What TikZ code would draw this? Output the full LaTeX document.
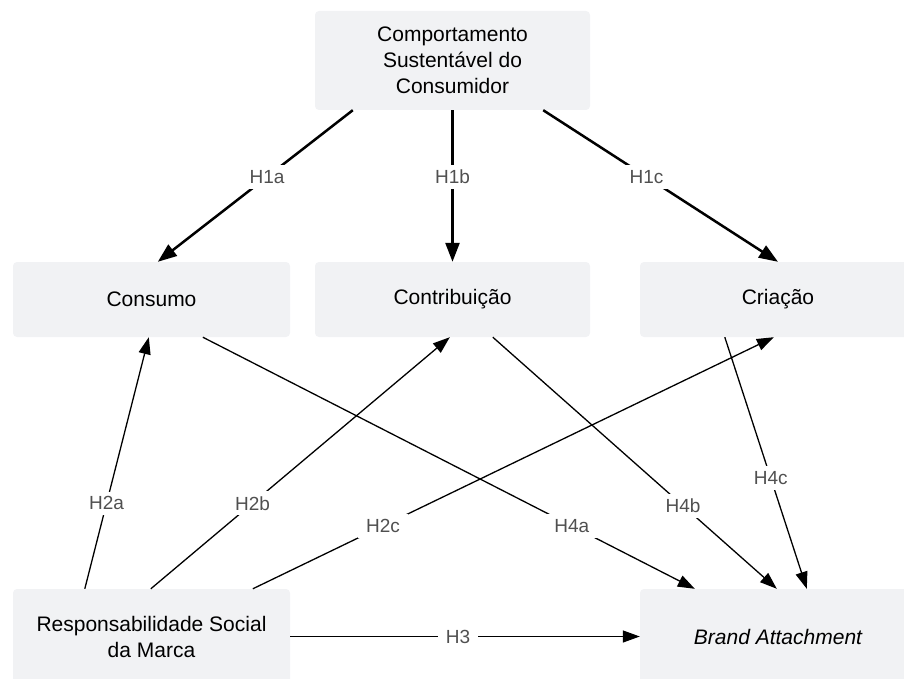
\documentclass[tikz,border=0pt]{standalone}
\usepackage{fontspec}
\setmainfont{Liberation Sans}
\usetikzlibrary{arrows.meta}
\usetikzlibrary{calc}

\definecolor{boxgray}{RGB}{241,242,244}
\definecolor{labelgray}{RGB}{80,80,80}

\begin{document}
\begin{tikzpicture}[x=1pt,y=-1pt,
  construct/.style={fill=boxgray,rounded corners=4pt,align=center,inner sep=0pt,
                    font=\fontsize{21}{26}\selectfont},
  path1/.style={line width=2.5pt,-{Triangle[length=19pt,width=14pt]}},
  path2/.style={line width=1.3pt,-{Triangle[length=17pt,width=12pt]}},
  hyp/.style={fill=white,text=labelgray,inner xsep=8pt,inner ysep=5pt,font=\fontsize{19}{19}\selectfont}]
\useasboundingbox (0,0) rectangle (904,679);
\clip (0,0) rectangle (904,679);

\node[construct,minimum width=275,minimum height=99] (csc) at (452.5,60.5) {Comportamento\\Sustentável do\\Consumidor};
\node[construct,minimum width=277,minimum height=75] (consumo) at (151.5,299.5) {Consumo};
\node[construct,minimum width=275,minimum height=75] (contrib) at (452.5,299.5) {Contribuição};
\node[construct,minimum width=276,minimum height=75] (criacao) at (778,299.5) {Criação};
\node[construct,minimum width=277,minimum height=95] (rsm) at (151.5,636.5) {Responsabilidade Social\\da Marca};
\node[construct,minimum width=276,minimum height=95] (ba) at (778,636.5) {\itshape Brand Attachment};

\draw[path1] ($(csc.south west)+(38,0)$) -- node[hyp,pos=0.44]{H1a} ($(consumo.north west)+(145,0)$);
\draw[path1] (csc.south) -- node[hyp,pos=0.44]{H1b} (contrib.north);
\draw[path1] ($(csc.south east)+(-47,0)$) -- node[hyp,pos=0.44]{H1c} (criacao.north);

\draw[path2] ($(rsm.north west)+(72,0)$) -- node[hyp,pos=0.34]{H2a} ($(consumo.south west)+(136,0)$);
\draw[path2] ($(rsm.north west)+(138,0)$) -- node[hyp,pos=0.34]{H2b} ($(contrib.south west)+(135,0)$);
\draw[path2] ($(rsm.north west)+(240,0)$) -- node[hyp,pos=0.25]{H2c} ($(criacao.south west)+(134,0)$);
\draw[path2] (rsm.east) -- node[hyp,pos=0.48]{H3} (ba.west);
\draw[path2] ($(consumo.south west)+(190,0)$) -- node[hyp,pos=0.75]{H4a} ($(ba.north west)+(55,0)$);
\draw[path2] ($(contrib.south west)+(178,0)$) -- node[hyp,pos=0.67]{H4b} ($(ba.north west)+(137,0)$);
\draw[path2] ($(criacao.south west)+(85,0)$) -- node[hyp,pos=0.56]{H4c} ($(ba.north west)+(167,0)$);
\end{tikzpicture}
\end{document}
